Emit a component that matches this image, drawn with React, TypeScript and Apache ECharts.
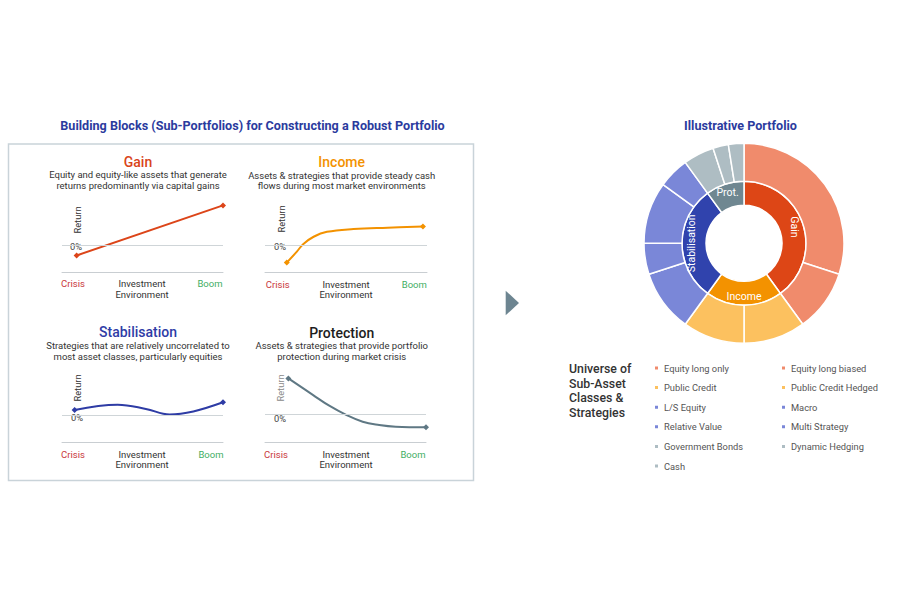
import React, { useEffect, useRef } from 'react';
import * as echarts from 'echarts';

const FONT = 'Roboto, "Noto Sans", sans-serif';

// ---------- data ----------
const mainTitle = 'Building Blocks (Sub-Portfolios) for Constructing a Robust Portfolio';
const pieTitle = 'Illustrative Portfolio';
const universeLabel = ['Universe of', 'Sub-Asset', 'Classes &', 'Strategies'];

const panelTitles = ['Gain', 'Income', 'Stabilisation', 'Protection'];
const panelSubtitles = [
  ['Equity and equity-like assets that generate', 'returns predominantly via capital gains'],
  ['Assets & strategies that provide steady cash', 'flows during most market environments'],
  ['Strategies that are relatively uncorrelated to', 'most asset classes, particularly equities'],
  ['Assets & strategies that provide portfolio', 'protection during market crisis'],
];
const envLabels = ['Crisis', 'Investment\nEnvironment', 'Boom'];
const returnLabel = 'Return';
const zeroLabel = '0%';

// [environment position 0..1, relative return]
const gainCurve = [[0, -0.38], [1, 1.44]];
const incomeCurve = [[0, -0.64], [0.074, -0.24], [0.12, 0.03], [0.197, 0.3], [0.295, 0.48], [0.49, 0.58], [0.74, 0.63], [1, 0.67]];
const stabilisationCurve = [[0, 0.18], [0.29, 0.37], [0.48, 0.22], [0.64, 0.02], [0.8, 0.13], [1, 0.46]];
const protectionCurve = [[0, 1.24], [0.18, 0.66], [0.3, 0.28], [0.42, -0.03], [0.54, -0.27], [0.66, -0.38], [0.78, -0.44], [1, -0.46]];
const curves = [gainCurve, incomeCurve, stabilisationCurve, protectionCurve];

const blockLabels = ['Gain', 'Income', 'Stabilisation', 'Prot.'];
const blockWeights = [40, 20, 30, 10];
const subAssetNames = [
  'Equity long only', 'Equity long biased', 'Public Credit', 'Public Credit Hedged',
  'L/S Equity', 'Macro', 'Relative Value', 'Multi Strategy',
  'Government Bonds', 'Dynamic Hedging', 'Cash',
];
const subAssetWeights = [30, 10, 10, 10, 10, 5, 10, 5, 5, 2.5, 2.5];
const subAssetBlock = [0, 0, 1, 1, 2, 2, 2, 2, 3, 3, 3];
const legendLeftCol = ['Equity long only', 'Public Credit', 'L/S Equity', 'Relative Value', 'Government Bonds', 'Cash'];
const legendRightCol = ['Equity long biased', 'Public Credit Hedged', 'Macro', 'Multi Strategy', 'Dynamic Hedging'];

// ---------- styles / layout ----------
const titleColors = ['#d9441a', '#f39200', '#2e3ca6', '#1d1d1d'];
const lineColors = ['#dc4519', '#f39200', '#2e3ca5', '#5f7884'];
const returnColors = ['#333', '#333', '#333', '#8a8a8a'];
const blockColors = ['#dd4616', '#f39200', '#3043ad', '#6f8791'];
const subColors = ['#f08b6c', '#fcc15f', '#7a87d8', '#aebdc3'];

const layout = [
  { left: 62, width: 161, top: 201, height: 71.5, xmin: -0.1, xmax: 1, cx: 138, titleY: 162, subY: [174, 185], retX: 77, retY: 220, zeroX: 76, zeroY: 246.5, envX: [73, 142, 210], envY: 283.5 },
  { left: 265, width: 162, top: 201, height: 71.5, xmin: -0.16, xmax: 1.03, cx: 341.7, titleY: 162, subY: [175, 185.7], retX: 281, retY: 219, zeroX: 280, zeroY: 246.7, envX: [277.7, 346, 414.3], envY: 284 },
  { left: 62, width: 161, top: 370.7, height: 72, xmin: -0.085, xmax: 1, cx: 138, titleY: 331.7, subY: [345, 356], retX: 77.7, retY: 388, zeroX: 77, zeroY: 417, envX: [73, 142, 211], envY: 454 },
  { left: 265, width: 161, top: 368.1, height: 74.6, xmin: -0.17, xmax: 1, cx: 341.7, titleY: 332.7, subY: [345, 356], retX: 280, retY: 388, zeroX: 280, zeroY: 418, envX: [276, 346, 413], envY: 454 },
];

function txt(text: string, x: number, y: number, size: number, color: string, weight: any = 'normal', extra: any = {}) {
  return {
    type: 'text', x, y, silent: true, ...extra,
    style: { text, fill: color, font: `${weight} ${size}px ${FONT}`, align: 'center', verticalAlign: 'middle', ...(extra.style || {}) },
  };
}

function buildOption() {
  const grids: any[] = [];
  const xAxes: any[] = [];
  const yAxes: any[] = [];
  const series: any[] = [];
  const graphics: any[] = [];

  graphics.push({ type: 'rect', silent: true, shape: { x: 8.5, y: 144, width: 465, height: 336.5 }, style: { fill: 'none', stroke: '#c9d3d9', lineWidth: 1.5 } });
  graphics.push(txt(mainTitle, 252.5, 125, 12.6, '#2b3b9e', 'bold'));
  graphics.push(txt(pieTitle, 740.5, 125, 12.6, '#2b3b9e', 'bold'));
  graphics.push({ type: 'polygon', silent: true, shape: { points: [[505.7, 290.7], [519, 303], [505.7, 315.3]] }, style: { fill: '#6d8591' } });

  universeLabel.forEach((t, i) => {
    graphics.push(txt(t, 569, 369 + i * 14.5, 12.3, '#333', 500, { style: { align: 'left' } }));
  });

  layout.forEach((L, i) => {
    grids.push({ left: L.left, top: L.top, width: L.width, height: L.height });
    xAxes.push({
      type: 'value', gridIndex: i, min: L.xmin, max: L.xmax,
      axisLine: { show: true, onZero: false, lineStyle: { color: '#c9ced2', width: 1 } },
      axisTick: { show: false }, axisLabel: { show: false }, splitLine: { show: false },
    });
    yAxes.push({ type: 'value', gridIndex: i, min: -1, max: 1.6, show: false, splitLine: { show: false } });
    const c = curves[i];
    series.push({
      type: 'line', xAxisIndex: i, yAxisIndex: i, smooth: 0.4,
      data: c.map((p, j) => ({ value: p, symbol: j === 0 || j === c.length - 1 ? 'diamond' : 'none' })),
      symbolSize: 6,
      lineStyle: { color: lineColors[i], width: 2 },
      itemStyle: { color: lineColors[i] },
      emphasis: { disabled: true },
      markLine: {
        silent: true, symbol: ['none', 'none'], label: { show: false },
        lineStyle: { color: '#cfd5d8', width: 1, type: 'solid' },
        data: [{ yAxis: 0 }],
      },
      z: 3,
    });

    graphics.push(txt(panelTitles[i], L.cx, L.titleY, 14, titleColors[i], 500));
    graphics.push(txt(panelSubtitles[i][0], L.cx, L.subY[0], 9.5, '#333'));
    graphics.push(txt(panelSubtitles[i][1], L.cx, L.subY[1], 9.5, '#333'));
    graphics.push(txt(returnLabel, L.retX, L.retY, 9.3, returnColors[i], 'normal', { rotation: Math.PI / 2 }));
    graphics.push(txt(zeroLabel, L.zeroX, L.zeroY, 9.3, '#444'));
    graphics.push(txt(envLabels[0], L.envX[0], L.envY, 9.5, '#c9373c'));
    graphics.push(txt(envLabels[1], L.envX[1], L.envY + 5.25, 9.5, '#333', 'normal', { style: { lineHeight: 10.5 } }));
    graphics.push(txt(envLabels[2], L.envX[2], L.envY, 9.5, '#3fae63'));
  });

  const labelRotate = [-90, 0, 90, 0];
  series.push({
    type: 'pie', name: 'blocks', center: [744, 243.3], radius: [38, 62], startAngle: 90, clockwise: true,
    silent: true, avoidLabelOverlap: false,
    itemStyle: { borderColor: '#fff', borderWidth: 1.5 },
    label: { show: true, position: 'inside', color: '#fff', fontSize: 10.5, fontFamily: FONT, formatter: '{b}' },
    labelLine: { show: false },
    emphasis: { disabled: true },
    data: blockLabels.map((n, i) => ({
      name: n, value: blockWeights[i], itemStyle: { color: blockColors[i] }, label: { rotate: labelRotate[i] },
    })),
  });
  series.push({
    type: 'pie', name: 'subassets', center: [744, 243.3], radius: [62, 100], startAngle: 90, clockwise: true,
    silent: true,
    itemStyle: { borderColor: '#fff', borderWidth: 1.5 },
    label: { show: false }, labelLine: { show: false },
    emphasis: { disabled: true },
    data: subAssetNames.map((n, i) => ({ name: n, value: subAssetWeights[i], itemStyle: { color: subColors[subAssetBlock[i]] } })),
  });

  const legendBase = {
    orient: 'vertical', top: 363, icon: 'rect', itemWidth: 5, itemHeight: 5, itemGap: 9.6,
    selectedMode: false, padding: 0,
    textStyle: { fontSize: 9.3, color: '#555', fontFamily: FONT, lineHeight: 10 },
  };

  return {
    animation: false,
    backgroundColor: '#ffffff',
    textStyle: { fontFamily: FONT },
    grid: grids, xAxis: xAxes, yAxis: yAxes, series,
    legend: [
      { ...legendBase, left: 653, data: legendLeftCol },
      { ...legendBase, left: 780, data: legendRightCol },
    ],
    graphic: graphics,
  };
}

export default function App() {
  const ref = useRef<HTMLDivElement>(null);
  useEffect(() => {
    if (!ref.current) return;
    const chart = echarts.init(ref.current, null, { renderer: 'svg' });
    chart.setOption(buildOption() as any);
    return () => chart.dispose();
  }, []);
  return <div ref={ref} style={{ position: 'fixed', left: 0, top: 0, width: 900, height: 600, background: '#fff' }} />;
}
